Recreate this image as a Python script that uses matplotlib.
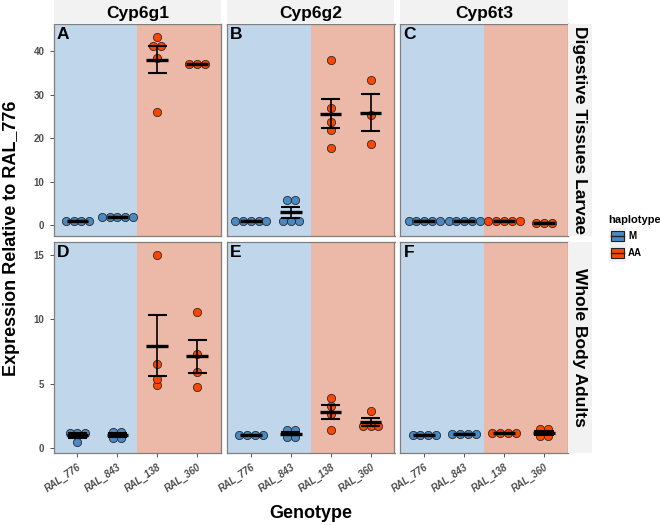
import numpy as np
import matplotlib
matplotlib.use('Agg')
import matplotlib.pyplot as plt
from matplotlib.patches import Rectangle
from matplotlib.lines import Line2D

plt.rcParams['font.family'] = ['Liberation Sans', 'DejaVu Sans']

genes = ['Cyp6g1', 'Cyp6g2', 'Cyp6t3']
tissues = ['Digestive Tissues Larvae', 'Whole Body Adults']
genotypes = ['RAL_776', 'RAL_843', 'RAL_138', 'RAL_360']
haplotypes = ['M', 'M', 'AA', 'AA']
panel_letters = ['A', 'B', 'C', 'D', 'E', 'F']

# expression relative to RAL_776, one list per genotype
larvae_cyp6g1 = [[0.95, 1.0, 1.0, 1.05], [1.9, 1.9, 1.9, 1.9, 1.9],
                 [43.3, 41.1, 41.1, 38.3, 26.0], [37.1, 37.1, 37.1]]
larvae_cyp6g2 = [[0.95, 1.0, 1.0, 1.0, 1.05], [1.0, 1.0, 1.0, 5.75, 5.75],
                 [37.9, 26.8, 23.7, 21.8, 17.8], [33.4, 25.3, 18.7]]
larvae_cyp6t3 = [[1.0, 1.0, 1.0, 1.0, 1.0], [0.9, 0.9, 0.9, 0.9, 0.9],
                 [1.0, 1.0, 1.0, 1.0, 1.0], [0.45, 0.45, 0.45]]
adult_cyp6g1 = [[1.2, 1.2, 1.15, 0.5], [1.3, 1.3, 0.8, 0.8],
                [15.0, 6.55, 5.4, 4.9], [10.55, 7.3, 5.93, 4.72]]
adult_cyp6g2 = [[1.0, 1.0, 1.0, 1.0], [1.4, 1.4, 0.9, 0.9],
                [3.9, 3.25, 2.65, 1.4], [2.9, 1.75, 1.75, 1.75]]
adult_cyp6t3 = [[1.0, 1.0, 1.0, 1.0], [1.15, 1.15, 1.15, 1.15],
                [1.2, 1.2, 1.2, 1.2], [1.5, 1.5, 0.95, 0.95]]

data = [[larvae_cyp6g1, larvae_cyp6g2, larvae_cyp6t3],
        [adult_cyp6g1, adult_cyp6g2, adult_cyp6t3]]

row_ticks = [[0, 10, 20, 30, 40], [0, 5, 10, 15]]
row_ylim = [(-2.5, 46.2), (-0.36, 16.0)]
row_binwidth = [1.45, 0.45]

fill = {'M': '#4A8AC4', 'AA': '#FF4500'}
bg = {'M': '#C0D7EB', 'AA': '#ECB8A7'}

W, H = 660, 525
fig = plt.figure(figsize=(W / 100, H / 100), dpi=100)


def rect(x0, y0, x1, y1):
    return [x0 / W, 1 - y1 / H, (x1 - x0) / W, (y1 - y0) / H]


col_x = [(53.5, 221.1), (226.9, 394.5), (400.3, 567.9)]
row_y = [(24, 236), (242, 453)]
spacing = 0.195  # dot diameter in x data units


def dot_positions(vals, binwidth):
    v = np.sort(np.asarray(vals, float))
    offs, ys = [], []
    i = 0
    while i < len(v):
        j = i
        while j + 1 < len(v) and v[j + 1] - v[i] <= binwidth:
            j += 1
        grp = v[i:j + 1]
        n = len(grp)
        c = (grp[0] + grp[-1]) / 2
        offs += list((np.arange(n) - (n - 1) / 2) * spacing)
        ys += [c] * n
        i = j + 1
    return np.array(offs), np.array(ys)


xpos = np.arange(1, len(genotypes) + 1)

for r in range(2):
    for c in range(3):
        ax = fig.add_axes(rect(col_x[c][0], row_y[r][0], col_x[c][1], row_y[r][1]))
        ax.set_xlim(0.4, 4.6)
        ax.set_ylim(*row_ylim[r])
        ax.axvspan(0.4, 2.5, color=bg['M'], zorder=0, lw=0)
        ax.axvspan(2.5, 4.6, color=bg['AA'], zorder=0, lw=0)
        for k, vals in enumerate(data[r][c]):
            offs, ys = dot_positions(vals, row_binwidth[r])
            ax.scatter(xpos[k] + offs, ys, s=35, color=fill[haplotypes[k]],
                       edgecolor='#2a2a2a', linewidth=0.6, zorder=2)
            m = np.mean(vals)
            se = np.std(vals, ddof=1) / np.sqrt(len(vals))
            ax.plot([xpos[k], xpos[k]], [m - se, m + se], color='black', lw=1.2, zorder=3)
            ax.hlines([m - se, m + se], xpos[k] - 0.24, xpos[k] + 0.24,
                      color='black', lw=1.5, zorder=3)
            ax.hlines(m, xpos[k] - 0.27, xpos[k] + 0.27, color='black', lw=2.4, zorder=3)
        for s in ax.spines.values():
            s.set_color('#7F7F7F')
            s.set_linewidth(0.9)
        ax.text(0.02, 0.985, panel_letters[r * 3 + c], transform=ax.transAxes,
                ha='left', va='top', fontsize=12.5, fontweight='bold')
        ax.tick_params(colors='#555555', length=3, width=0.7)
        if c == 0:
            ax.set_yticks(row_ticks[r])
            ax.set_yticklabels([str(t) for t in row_ticks[r]], fontsize=7,
                               fontweight='bold', color='#4D4D4D')
        else:
            ax.set_yticks([])
        if r == 1:
            ax.set_xticks(xpos)
            ax.set_xticklabels(genotypes, rotation=35, ha='right', rotation_mode='anchor',
                               fontsize=7, fontweight='bold', color='#4D4D4D',
                               style='italic')
        else:
            ax.set_xticks([])

        if r == 0:
            sax = fig.add_axes(rect(col_x[c][0], 0, col_x[c][1], 24))
            sax.set_facecolor('#F2F2F2')
            sax.set_xticks([])
            sax.set_yticks([])
            for s in sax.spines.values():
                s.set_visible(False)
            sax.text(0.5, 0.45, genes[c], ha='center', va='center',
                     fontsize=12.5, fontweight='bold')
        if c == 2:
            sax = fig.add_axes(rect(568, row_y[r][0], 592, row_y[r][1]))
            sax.set_facecolor('#F2F2F2')
            sax.set_xticks([])
            sax.set_yticks([])
            for s in sax.spines.values():
                s.set_visible(False)
            sax.text(0.5, 0.5, tissues[r], ha='center', va='center', rotation=-90,
                     fontsize=12.5, fontweight='bold')

fig.text(12 / W, 1 - 238 / H, 'Expression Relative to RAL_776', rotation=90,
         ha='center', va='center', fontsize=13, fontweight='bold')
fig.text(311 / W, 1 - 513 / H, 'Genotype', ha='center', va='center',
         fontsize=13, fontweight='bold')

# legend
fig.text(608 / W, 1 - 220 / H, 'haplotype', ha='left', va='center',
         fontsize=8, fontweight='bold')
for i, h in enumerate(['M', 'AA']):
    yc = 236 + i * 17
    fig.patches.append(Rectangle(((609) / W, 1 - (yc + 8.5) / H), 17 / W, 17 / H,
                                 transform=fig.transFigure, facecolor='#F2F2F2',
                                 edgecolor='none'))
    fig.patches.append(Rectangle((611 / W, 1 - (yc + 5) / H), 13 / W, 10 / H,
                                 transform=fig.transFigure, facecolor=fill[h],
                                 edgecolor='#222222', lw=0.8))
    fig.lines.append(Line2D([611 / W, 624 / W], [1 - yc / H] * 2,
                            transform=fig.transFigure, color='#222222', lw=1.0))
    fig.text(628 / W, 1 - yc / H, h, ha='left', va='center', fontsize=7,
             fontweight='bold')

fig.savefig('out.png', dpi=100)
